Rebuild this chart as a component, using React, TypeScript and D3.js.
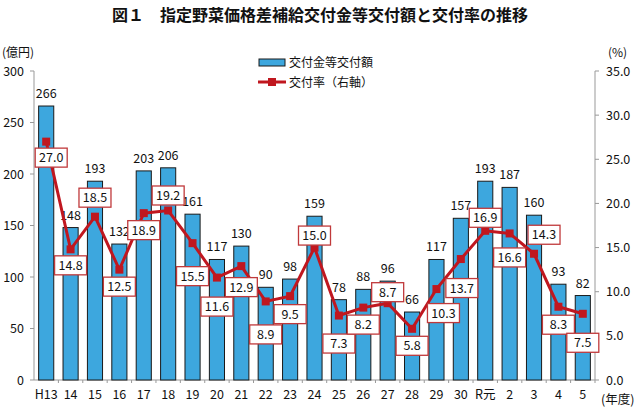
import React from "react";
import * as d3 from "d3";

const categories = ["H13","14","15","16","17","18","19","20","21","22","23","24","25","26","27","28","29","30","R元","2","3","4","5"];
const amounts = [266,148,193,132,203,206,161,117,130,90,98,159,78,88,96,66,117,157,193,187,160,93,82];
const rates = [27.0,14.8,18.5,12.5,18.9,19.2,15.5,11.6,12.9,8.9,9.5,15.0,7.3,8.2,8.7,5.8,10.3,13.7,16.9,16.6,14.3,8.3,7.5];
const leftTicks = [0,50,100,150,200,250,300];
const rightTicks = [0,5,10,15,20,25,30,35];
// label placement offsets (layout only)
const rateLabelDx = [5,0,0,0,0,0,0,0,0,0,0,0,0,0,0,0,7,1,0,0,10,0,0];
const rateLabelDy = [16,16,-19,17,17,-15,33,29,21,33,18,-12,28,17,-11,17,24,29,-13,24,-19,18,29];

const W = 640, H = 407;
const left = 34, right = 595, top = 71, bottom = 380;
const FONT = "'Noto Sans CJK JP', 'Noto Sans', sans-serif";
const BAR = "#3DA7DE";
const RED = "#C0171F";

export default function App() {
  const x = d3.scaleBand<string>().domain(categories).range([left, right]).paddingInner(0.38).paddingOuter(0.19);
  const yL = d3.scaleLinear().domain([0, 300]).range([bottom, top]);
  const yR = d3.scaleLinear().domain([0, 35]).range([bottom, top]);
  const cx = (c: string) => (x(c) as number) + x.bandwidth() / 2;
  const line = d3.line<number>().x((_, i) => cx(categories[i])).y((d) => yR(d));
  const step = x.step();
  return (
    <svg width={W} height={H} style={{ position: "absolute", left: 0, top: 0, fontFamily: FONT }}>
      <rect width={W} height={H} fill="#fff" />
      <text x={320} y={21} textAnchor="middle" fontSize={16} fontWeight="bold" fill="#111">図１　指定野菜価格差補給交付金等交付額と交付率の推移</text>
      {/* axes */}
      <line x1={left} x2={left} y1={top} y2={bottom} stroke="#999" />
      <line x1={right} x2={right} y1={top} y2={bottom} stroke="#999" />
      <line x1={left} x2={right} y1={bottom} y2={bottom} stroke="#999" />
      {leftTicks.map((t) => (
        <g key={"l" + t}>
          <line x1={left - 4} x2={left} y1={yL(t)} y2={yL(t)} stroke="#999" />
          <text x={24} y={yL(t) + 4.5} textAnchor="end" fontSize={12.5} fill="#111">{t}</text>
        </g>
      ))}
      {rightTicks.map((t) => (
        <g key={"r" + t}>
          <line x1={right} x2={right + 4} y1={yR(t)} y2={yR(t)} stroke="#999" />
          <text x={606} y={yR(t) + 4.5} textAnchor="start" fontSize={12.5} fill="#111">{t.toFixed(1)}</text>
        </g>
      ))}
      {categories.map((c, i) => (
        <line key={"xt" + i} x1={left + step * (i + 1)} x2={left + step * (i + 1)} y1={bottom} y2={bottom + 3} stroke="#999" />
      ))}
      {categories.map((c) => (
        <text key={"xl" + c} x={cx(c)} y={399} textAnchor="middle" fontSize={12.5} fill="#111">{c}</text>
      ))}
      <text x={2} y={57} fontSize={12} fill="#111">(億円)</text>
      <text x={608} y={57} fontSize={12} fill="#111">(%)</text>
      <text x={601} y={404} fontSize={12.5} fill="#111">(年度)</text>
      {/* bars */}
      {amounts.map((v, i) => (
        <rect key={"b" + i} x={x(categories[i])} y={yL(v)} width={x.bandwidth()} height={bottom - yL(v)} fill={BAR} stroke="#1a1a1a" strokeWidth={1} />
      ))}
      {amounts.map((v, i) => (
        <text key={"bl" + i} x={cx(categories[i])} y={yL(v) - 8} textAnchor="middle" fontSize={12.5} fill="#111">{v}</text>
      ))}
      {/* line */}
      <path d={line(rates) || ""} fill="none" stroke={RED} strokeWidth={3} />
      {rates.map((v, i) => (
        <rect key={"m" + i} x={cx(categories[i]) - 4} y={yR(v) - 4} width={8} height={8} fill={RED} />
      ))}
      {rates.map((v, i) => {
        const lx = cx(categories[i]) + rateLabelDx[i];
        const ly = yR(v) + rateLabelDy[i];
        return (
          <g key={"rl" + i}>
            <rect x={lx - 16} y={ly - 9.5} width={32} height={19} fill="#fff" stroke="#C0393B" strokeWidth={1.3} />
            <text x={lx} y={ly + 4.5} textAnchor="middle" fontSize={12.5} fill="#111">{v.toFixed(1)}</text>
          </g>
        );
      })}
      {/* legend */}
      <rect x={259} y={59} width={26} height={7} fill={BAR} stroke="#1a1a1a" strokeWidth={1} />
      <text x={289} y={67} fontSize={12} fill="#111">交付金等交付額</text>
      <line x1={258} x2={286} y1={82} y2={82} stroke={RED} strokeWidth={3} />
      <rect x={268} y={78} width={8} height={8} fill={RED} />
      <text x={289} y={87} fontSize={12} fill="#111">交付率（右軸）</text>
    </svg>
  );
}
